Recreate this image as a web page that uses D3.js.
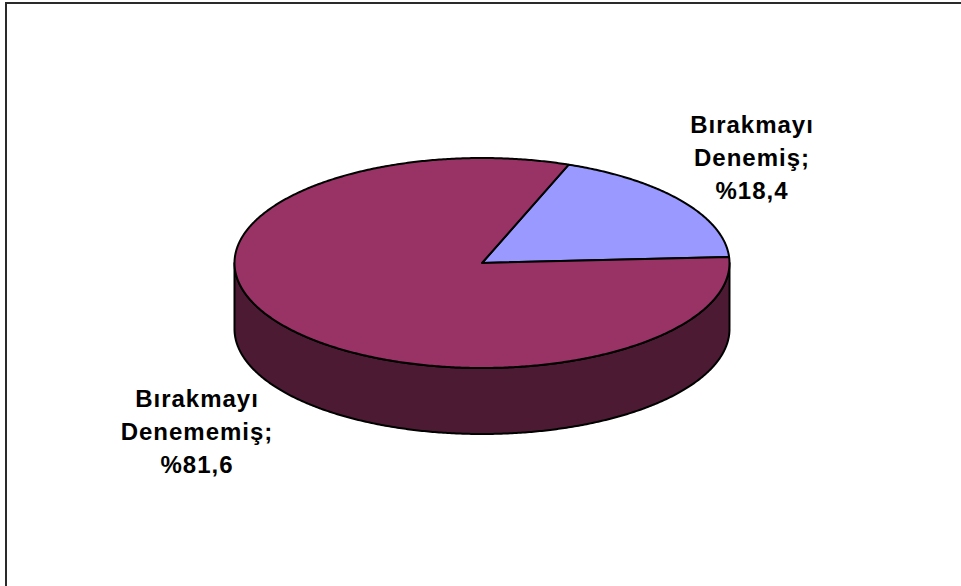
<!DOCTYPE html>
<html>
<head>
<meta charset="utf-8">
<script src="https://cdn.jsdelivr.net/npm/d3@7/dist/d3.min.js"></script>
<style>
  html, body { margin: 0; padding: 0; background: #ffffff; }
  svg { display: block; }
</style>
</head>
<body>
<svg id="chart" width="961" height="586"></svg>
<script>
// Smoking-cessation attempts: share of respondents
const categories = ["Bırakmayı Denemiş", "Bırakmayı Denememiş"];
const labelLines = [["Bırakmayı", "Denemiş;", "%18,4"], ["Bırakmayı", "Denememiş;", "%81,6"]];
const values = [18.4, 81.6];
const topColors = ["#9999ff", "#993366"];
const sideColors = ["#4d4d80", "#4d1a33"];

const W = 961, H = 586;
const svg = d3.select("#chart");

// frame
svg.append("path")
  .attr("d", `M6,${H + 5} V3 H${W + 5}`)
  .attr("fill", "none")
  .attr("stroke", "#2a2a2a")
  .attr("stroke-width", 2);

// pie geometry (tilted disc)
const cx = 482, cy = 263, rx = 247.5, ry = 105, depth = 66;
const deg = Math.PI / 180;

const pie = d3.pie().sort(null).value(d => d)
  .startAngle(20.5 * deg).endAngle(380.5 * deg);
const arcs = pie(values);

// angle measured clockwise from 12 o'clock onto the ellipse
const px = a => cx + rx * Math.sin(a);
const py = a => cy - ry * Math.cos(a);

function sample(a0, a1) {
  const n = Math.max(2, Math.ceil(Math.abs(a1 - a0) / (0.5 * deg)));
  return d3.range(n + 1).map(i => a0 + (a1 - a0) * i / n);
}

const line = d3.line();

function topPath(d) {
  const pts = [[cx, cy]].concat(sample(d.startAngle, d.endAngle).map(a => [px(a), py(a)]));
  return line(pts) + "Z";
}

function sidePath(d) {
  // only the front half of the rim (90°..270°) is visible
  const lo = Math.max(d.startAngle, 90 * deg);
  const hi = Math.min(d.endAngle, 270 * deg);
  if (hi <= lo) return null;
  const angs = sample(lo, hi);
  const topPts = angs.map(a => [px(a), py(a)]);
  const botPts = angs.slice().reverse().map(a => [px(a), py(a) + depth]);
  return line(topPts.concat(botPts)) + "Z";
}

const g = svg.append("g");

// rim
arcs.forEach((d, i) => {
  const p = sidePath(d);
  if (p) {
    g.append("path")
      .attr("d", p)
      .attr("fill", sideColors[i])
      .attr("stroke", "#000")
      .attr("stroke-width", 2)
      .attr("stroke-linejoin", "round");
  }
});

// top faces
g.selectAll("path.top")
  .data(arcs)
  .join("path")
  .attr("class", "top")
  .attr("d", topPath)
  .attr("fill", (d, i) => topColors[i])
  .attr("stroke", "#000")
  .attr("stroke-width", 2)
  .attr("stroke-linejoin", "round");

// data labels
const labelPos = [[752, 133], [197, 407]];
const lineStep = 33;
labelLines.forEach((lines, i) => {
  const t = svg.append("text")
    .attr("text-anchor", "middle")
    .attr("font-family", "'Liberation Sans', Arial, sans-serif")
    .attr("font-weight", "bold")
    .attr("font-size", 24)
    .attr("letter-spacing", 1)
    .attr("fill", "#000");
  lines.forEach((s, k) => {
    t.append("tspan")
      .attr("x", labelPos[i][0])
      .attr("y", labelPos[i][1] + k * lineStep)
      .text(s);
  });
});
</script>
</body>
</html>
